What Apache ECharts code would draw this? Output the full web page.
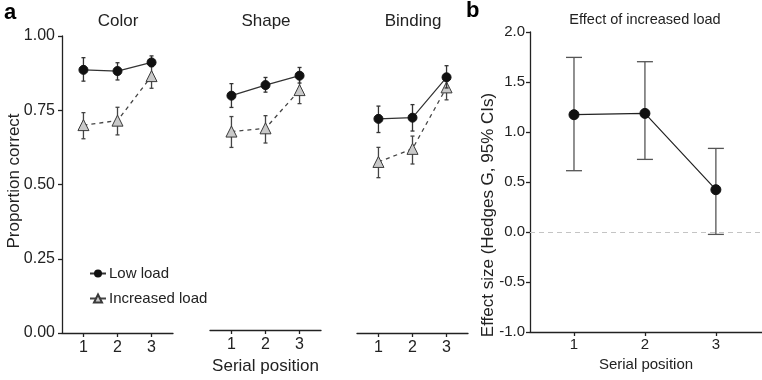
<!DOCTYPE html>
<html>
<head>
<meta charset="utf-8">
<title>Load effect</title>
<script src="https://cdn.jsdelivr.net/npm/echarts@6/dist/echarts.min.js"></script>
<style>
  html, body { margin: 0; padding: 0; background: #fff; }
  #chart { width: 762px; height: 380px; }
</style>
</head>
<body>
<div id="chart"></div>
<script>
// serial positions on the x axis
const positions = [1, 2, 3];
const panelTitles = ['Color', 'Shape', 'Binding'];

// proportion correct, low load (means and CI ends)
const colorLow = [0.886, 0.882, 0.911];
const colorLowCI = [[0.848, 0.927], [0.852, 0.910], [0.897, 0.933]];
const shapeLow = [0.797, 0.833, 0.865];
const shapeLowCI = [[0.757, 0.838], [0.809, 0.859], [0.840, 0.893]];
const bindingLow = [0.721, 0.725, 0.861];
const bindingLowCI = [[0.675, 0.764], [0.680, 0.769], [0.825, 0.900]];

// proportion correct, increased load
const colorInc = [0.700, 0.715, 0.865];
const colorIncCI = [[0.654, 0.742], [0.667, 0.760], [0.824, 0.905]];
const shapeInc = [0.675, 0.686, 0.816];
const shapeIncCI = [[0.621, 0.726], [0.636, 0.729], [0.770, 0.855]];
const bindingInc = [0.576, 0.620, 0.827];
const bindingIncCI = [[0.523, 0.625], [0.569, 0.663], [0.785, 0.865]];

// effect size (Hedges G) with 95% CI
const effect = [1.173, 1.186, 0.423];
const effectCI = [[0.613, 1.746], [0.726, 1.703], [-0.024, 0.836]];

const FONT = '"Liberation Sans", Arial, Helvetica, sans-serif';
const INK = '#222';

const lowSets = [colorLow, shapeLow, bindingLow];
const lowCIs = [colorLowCI, shapeLowCI, bindingLowCI];
const incSets = [colorInc, shapeInc, bindingInc];
const incCIs = [colorIncCI, shapeIncCI, bindingIncCI];

const pairs = (vals) => positions.map((p, i) => [p, vals[i]]);

// vertical error bar with caps, drawn through the axis scales
function errorBars(idx, ci, capW, color, z) {
  return {
    type: 'custom',
    xAxisIndex: idx,
    yAxisIndex: idx,
    silent: true,
    z: z,
    data: ci.map((c, i) => [positions[i], c[0], c[1]]),
    encode: { x: 0, y: [1, 2] },
    renderItem: (params, api) => {
      const x = api.value(0);
      const lo = api.coord([x, api.value(1)]);
      const hi = api.coord([x, api.value(2)]);
      const h = capW / 2;
      const style = { stroke: color, lineWidth: 1.3 };
      return {
        type: 'group',
        children: [
          { type: 'line', shape: { x1: lo[0], y1: lo[1], x2: hi[0], y2: hi[1] }, style },
          { type: 'line', shape: { x1: lo[0] - h, y1: lo[1], x2: lo[0] + h, y2: lo[1] }, style },
          { type: 'line', shape: { x1: hi[0] - h, y1: hi[1], x2: hi[0] + h, y2: hi[1] }, style }
        ]
      };
    }
  };
}

const axisCommon = {
  axisLine: { show: true, onZero: false, lineStyle: { color: INK, width: 1.3 } },
  axisTick: { show: true, inside: false, length: 4, lineStyle: { color: INK, width: 1.3 } },
  splitLine: { show: false },
  axisLabel: { color: INK, fontSize: 16, fontFamily: FONT }
};

const panelLefts = [62, 210, 357];
const grids = panelLefts.map(l => ({ left: l, top: 36, width: 111, height: 297 }));
grids.push({ left: 530, top: 32, width: 232, height: 300 });

const xAxes = panelLefts.map((l, i) => ({
  type: 'value',
  gridIndex: i,
  min: 0.37,
  max: 3.63,
  ...axisCommon,
  axisTick: { ...axisCommon.axisTick, customValues: positions },
  axisLabel: { ...axisCommon.axisLabel, margin: 7, customValues: positions },
  name: i === 1 ? 'Serial position' : '',
  nameLocation: 'middle',
  nameGap: 28,
  nameTextStyle: { color: INK, fontSize: 17, fontFamily: FONT }
}));
xAxes.push({
  type: 'value',
  gridIndex: 3,
  min: 0.38,
  max: 3.65,
  ...axisCommon,
  axisTick: { ...axisCommon.axisTick, customValues: positions },
  axisLabel: { ...axisCommon.axisLabel, fontSize: 15, margin: 5, customValues: positions },
  name: 'Serial position',
  nameLocation: 'middle',
  nameGap: 12,
  nameTextStyle: { color: INK, fontSize: 15, fontFamily: FONT }
});

const yAxes = panelLefts.map((l, i) => ({
  type: 'value',
  gridIndex: i,
  min: 0,
  max: 1,
  interval: 0.25,
  show: i === 0,
  ...axisCommon,
  axisLabel: { ...axisCommon.axisLabel, margin: 7, formatter: v => v.toFixed(2) }
}));
yAxes.push({
  type: 'value',
  gridIndex: 3,
  min: -1,
  max: 2,
  interval: 0.5,
  ...axisCommon,
  axisLabel: { ...axisCommon.axisLabel, fontSize: 15, margin: 5, formatter: v => v.toFixed(1) }
});

const series = [];
panelLefts.forEach((l, i) => {
  series.push(errorBars(i, incCIs[i], 4, '#444', 2));
  series.push({
    name: 'Increased load',
    type: 'line',
    xAxisIndex: i,
    yAxisIndex: i,
    data: pairs(incSets[i]),
    symbol: 'triangle',
    symbolSize: 11,
    z: 3,
    itemStyle: { color: '#c9c9c9', borderColor: '#3a3a3a', borderWidth: 1 },
    lineStyle: { color: '#444', width: 1.3, type: [4, 4] }
  });
  series.push(errorBars(i, lowCIs[i], 4, '#333', 4));
  series.push({
    name: 'Low load',
    type: 'line',
    xAxisIndex: i,
    yAxisIndex: i,
    data: pairs(lowSets[i]),
    symbol: 'circle',
    symbolSize: 9,
    z: 5,
    itemStyle: { color: '#111', borderColor: '#111' },
    lineStyle: { color: '#333', width: 1.2 }
  });
});
series.push(errorBars(3, effectCI, 16, '#555', 2));
series.push({
  name: 'Effect',
  type: 'line',
  xAxisIndex: 3,
  yAxisIndex: 3,
  data: pairs(effect),
  symbol: 'circle',
  symbolSize: 10,
  z: 5,
  itemStyle: { color: '#111', borderColor: '#111' },
  lineStyle: { color: '#222', width: 1.2 },
  markLine: {
    silent: true,
    symbol: 'none',
    label: { show: false },
    lineStyle: { color: '#c4c4c4', type: [5, 4], width: 1.2 },
    data: [{ yAxis: 0 }]
  }
});

const textStyle = (size, extra) => Object.assign({
  fill: INK, fontSize: size, fontFamily: FONT, align: 'center', verticalAlign: 'middle'
}, extra || {});

const graphic = [
  { type: 'text', x: 4, y: 13, style: textStyle(22, { text: 'a', fontWeight: 'bold', align: 'left', fill: '#000' }) },
  { type: 'text', x: 466, y: 11, style: textStyle(22, { text: 'b', fontWeight: 'bold', align: 'left', fill: '#000' }) },
  { type: 'text', x: 645, y: 20, style: textStyle(14.5, { text: 'Effect of increased load' }) },
  { type: 'text', x: 14, y: 181, rotation: Math.PI / 2, style: textStyle(17, { text: 'Proportion correct' }) },
  { type: 'text', x: 488, y: 215, rotation: Math.PI / 2, style: textStyle(17, { text: 'Effect size (Hedges G, 95% CIs)' }) }
];
panelTitles.forEach((t, i) => {
  graphic.push({ type: 'text', x: panelLefts[i] + 56, y: 21, style: textStyle(17, { text: t }) });
});

const chart = echarts.init(document.getElementById('chart'), null, { renderer: 'canvas' });
chart.setOption({
  animation: false,
  backgroundColor: '#fff',
  grid: grids,
  xAxis: xAxes,
  yAxis: yAxes,
  legend: {
    data: ['Low load', 'Increased load'],
    orient: 'vertical',
    left: 84,
    top: 261,
    itemWidth: 16,
    itemHeight: 10,
    itemGap: 10,
    lineStyle: { type: 'solid' },
    textStyle: { color: INK, fontSize: 15, fontFamily: FONT, padding: [0, 0, 0, -2] }
  },
  graphic: graphic,
  series: series
});
</script>
</body>
</html>
